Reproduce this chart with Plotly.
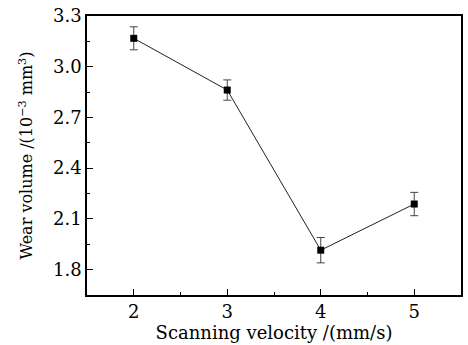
import plotly.graph_objects as go

velocity = [2, 3, 4, 5]
wear_volume = [3.168, 2.862, 1.915, 2.188]
wear_error = [0.068, 0.06, 0.075, 0.069]
y_ticks = [1.8, 2.1, 2.4, 2.7, 3.0, 3.3]

fig = go.Figure()
fig.add_trace(go.Scatter(
    x=velocity, y=wear_volume, mode="lines+markers",
    line=dict(color="#222222", width=1),
    marker=dict(symbol="square", size=7, color="black"),
    error_y=dict(type="data", array=wear_error, visible=True,
                 color="#444444", thickness=1, width=4),
    showlegend=False,
))

tick_font = dict(family="DejaVu Serif", size=18, color="black")
x_title_font = dict(family="DejaVu Serif", size=18, color="black")
y_title_font = dict(family="DejaVu Serif", size=16, color="black")
axis_common = dict(
    showline=True, linecolor="black", linewidth=1.5, mirror=True,
    ticks="inside", ticklen=6, tickwidth=1, tickcolor="black",
    showgrid=False, zeroline=False, tickfont=tick_font, automargin=False,
)
fig.update_xaxes(
    range=[1.5, 5.5], tickvals=velocity, ticktext=[str(v) for v in velocity],
    minor=dict(ticks="inside", ticklen=3, dtick=0.5, tick0=1.5, tickcolor="black"),
    title=dict(text="Scanning velocity /(mm/s)", font=x_title_font, standoff=0),
    **axis_common,
)
fig.update_yaxes(
    range=[1.65, 3.3], tickvals=y_ticks, ticktext=[f"{v:.1f}" for v in y_ticks],
    minor=dict(ticks="inside", ticklen=3, dtick=0.15, tick0=1.65, tickcolor="black"),
    title=dict(text="Wear volume /(10<sup>−3</sup> mm<sup>3</sup>)", font=y_title_font, standoff=16),
    **axis_common,
)
fig.update_layout(
    width=468, height=345,
    margin=dict(l=87, r=7, t=16, b=50),
    paper_bgcolor="white", plot_bgcolor="white",
    font=tick_font,
)
fig.write_html("out.html")
